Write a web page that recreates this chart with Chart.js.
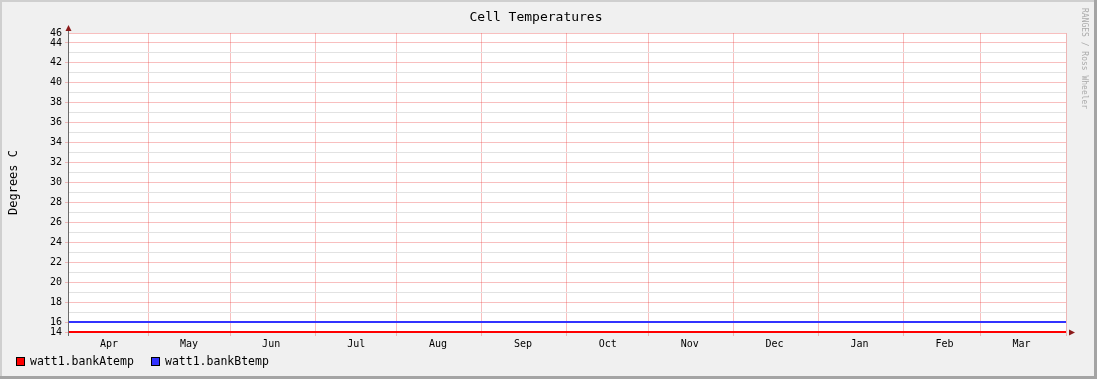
<!DOCTYPE html>
<html>
<head>
<meta charset="utf-8">
<script src="https://cdn.jsdelivr.net/npm/chart.js@4/dist/chart.umd.min.js"></script>
<style>
  html, body { margin: 0; padding: 0; background: #f0f0f0; }
  #wrap { width: 1097px; height: 379px; }
</style>
</head>
<body>
<div id="wrap"><canvas id="cellTemps" width="1097" height="379"></canvas></div>
<script>
// data
const months = ['Apr', 'May', 'Jun', 'Jul', 'Aug', 'Sep', 'Oct', 'Nov', 'Dec', 'Jan', 'Feb', 'Mar'];
// days into the window where each month line sits, last = window end
const monthStartDays = [0, 29.3, 59.3, 90.4, 120.3, 151.4, 182.4, 212.4, 243.4, 274.5, 305.6, 333.7, 365];
const bankAtemp = [15, 15, 15, 15, 15, 15, 15, 15, 15, 15, 15, 15, 15];
const bankBtemp = [16, 16, 16, 16, 16, 16, 16, 16, 16, 16, 16, 16, 16];
const seriesNames = ['watt1.bankAtemp', 'watt1.bankBtemp'];
const seriesColors = ['#ff0000', '#3333ff'];

const mono = 'DejaVu Sans Mono';
const majorGrid = 'rgba(235, 60, 60, 0.33)';
const minorGrid = '#e2e2e2';

// background, border, arrows, legend and the little credit on the right
const rrdLook = {
  id: 'rrdLook',
  beforeDraw(chart) {
    const ctx = chart.ctx, a = chart.chartArea;
    ctx.save();
    ctx.fillStyle = '#f0f0f0';
    ctx.fillRect(0, 0, chart.width, chart.height);
    ctx.fillStyle = '#ffffff';
    ctx.fillRect(a.left, a.top, a.right - a.left, a.bottom - a.top);
    ctx.restore();
  },
  afterDraw(chart) {
    const ctx = chart.ctx, a = chart.chartArea;
    const W = chart.width, H = chart.height;
    ctx.save();
    // frame
    ctx.fillStyle = '#cfcfcf';
    ctx.fillRect(0, 0, W, 2);
    ctx.fillRect(0, 0, 2, H);
    ctx.fillStyle = '#a4a4a4';
    ctx.fillRect(W - 3, 0, 3, H);
    ctx.fillRect(0, H - 3, W, 3);

    // y axis line and arrow heads
    ctx.strokeStyle = '#6a6a6a';
    ctx.lineWidth = 1;
    ctx.beginPath();
    ctx.moveTo(a.left + 0.5, a.top - 5);
    ctx.lineTo(a.left + 0.5, a.bottom + 4);
    ctx.stroke();
    ctx.fillStyle = '#8b1a1a';
    ctx.beginPath();
    ctx.moveTo(a.left + 0.5, a.top - 8);
    ctx.lineTo(a.left - 2.5, a.top - 2);
    ctx.lineTo(a.left + 3.5, a.top - 2);
    ctx.closePath();
    ctx.fill();
    ctx.beginPath();
    ctx.moveTo(a.right + 9, a.bottom + 0.5);
    ctx.lineTo(a.right + 3, a.bottom - 2.5);
    ctx.lineTo(a.right + 3, a.bottom + 3.5);
    ctx.closePath();
    ctx.fill();

    // legend
    ctx.font = '11.5px ' + mono;
    ctx.textBaseline = 'middle';
    ctx.textAlign = 'left';
    const legendX = [16, 151];
    seriesNames.forEach((name, i) => {
      const x = legendX[i], y = 357;
      ctx.fillStyle = seriesColors[i];
      ctx.fillRect(x, y, 9, 9);
      ctx.strokeStyle = '#000';
      ctx.strokeRect(x + 0.5, y + 0.5, 8, 8);
      ctx.fillStyle = '#000';
      ctx.fillText(name, x + 14, y + 5);
    });

    // credit
    ctx.translate(1084, 8);
    ctx.rotate(Math.PI / 2);
    ctx.font = '8px ' + mono;
    ctx.fillStyle = '#ababab';
    ctx.textBaseline = 'middle';
    ctx.fillText('RANGES / Ross Wheeler', 0, 0);
    ctx.restore();
  }
};

const tempData = {
  datasets: [{
    label: seriesNames[0],
    data: monthStartDays.map((d, i) => ({ x: d, y: bankAtemp[i] })),
    borderColor: seriesColors[0],
    backgroundColor: seriesColors[0],
    borderWidth: 2,
    pointRadius: 0,
    clip: 4
  }, {
    label: seriesNames[1],
    data: monthStartDays.map((d, i) => ({ x: d, y: bankBtemp[i] })),
    borderColor: seriesColors[1],
    backgroundColor: seriesColors[1],
    borderWidth: 2,
    pointRadius: 0,
    clip: 4
  }]
};

const tempOptions = {
  responsive: false,
  animation: false,
  layout: { padding: { left: 6, right: 31, top: 0, bottom: 0 } },
  plugins: {
    legend: { display: false },
    tooltip: { enabled: false },
    title: {
      display: true,
      text: 'Cell Temperatures',
      color: '#000',
      font: { family: mono, size: 13, weight: 'normal', lineHeight: 1.2 },
      padding: { top: 10, bottom: 7.4 }
    }
  },
  scales: {
    x: {
      type: 'linear',
      min: 0,
      max: 365,
      afterBuildTicks(scale) {
        scale.ticks = monthStartDays.map(v => ({ value: v }));
      },
      afterFit(scale) { scale.height = 47; },
      ticks: {
        autoSkip: false,
        maxRotation: 0,
        labelOffset: 41,
        padding: 2,
        color: '#000',
        font: { family: mono, size: 10 },
        callback: (v, i) => months[i] || ''
      },
      grid: { color: majorGrid, tickLength: 4 },
      border: { display: false }
    },
    y: {
      min: 15,
      max: 45,
      afterFit(scale) { scale.width = 62; },
      title: {
        display: true,
        text: 'Degrees C',
        color: '#000',
        font: { family: mono, size: 12 },
        padding: { top: 1, bottom: 0 }
      },
      ticks: {
        stepSize: 1,
        autoSkip: false,
        padding: 3,
        color: '#000',
        font: { family: mono, size: 10 },
        callback(v) {
          if (v === 15) return '14';
          if (v === 45) return '46';
          return v % 2 === 0 ? String(v) : '';
        }
      },
      grid: {
        color: c => (c.tick && c.tick.value % 2 === 0) || c.index === 30 ? majorGrid : minorGrid,
        tickColor: c => (c.tick && (c.tick.value % 2 === 0 || c.index === 0)) ? majorGrid : 'rgba(0,0,0,0)',
        tickLength: 3
      },
      border: { display: false }
    }
  }
};

const tempChart = new Chart(
  document.getElementById('cellTemps'),
  { type: 'line', data: tempData, options: tempOptions, plugins: [rrdLook] }
);
</script>
</body>
</html>
